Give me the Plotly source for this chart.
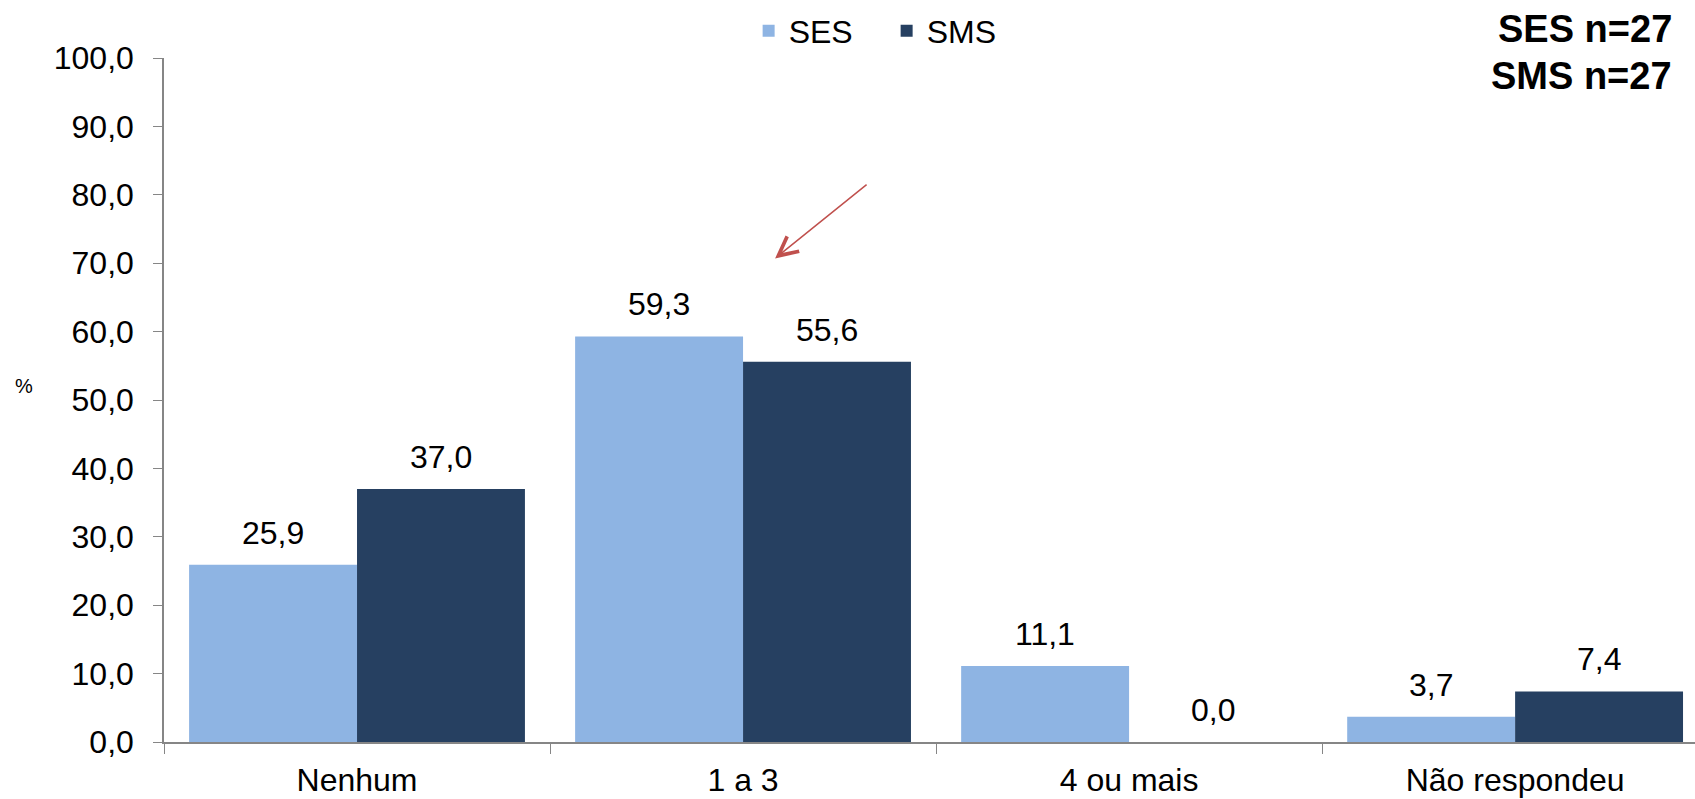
import plotly.graph_objects as go

categories = ["Nenhum", "1 a 3", "4 ou mais", "Não respondeu"]
ses_values = [25.9, 59.3, 11.1, 3.7]
sms_values = [37.0, 55.6, 0.0, 7.4]
series_names = ["SES", "SMS"]
colors = ["#8EB4E3", "#264061"]

FONT = "Liberation Sans, Arial, sans-serif"
fs = 32
BARGAP = 0.13

def lbl(v):
    return f"{v:.1f}".replace(".", ",")

fig = go.Figure()
for name, vals, col in zip(series_names, [ses_values, sms_values], colors):
    fig.add_trace(go.Bar(
        x=categories, y=vals, name=name, marker=dict(color=col, line=dict(width=0)),
        cliponaxis=False,
    ))

# value labels above bars
half = (1 - BARGAP) / 4
for s, vals in enumerate([ses_values, sms_values]):
    off = -half if s == 0 else half
    for i, v in enumerate(vals):
        fig.add_annotation(x=i + off, y=v, xref="x", yref="y", text=lbl(v),
                           showarrow=False, yanchor="bottom", yshift=12,
                           font=dict(family=FONT, size=fs, color="black"))

fig.update_layout(
    width=1695, height=799,
    margin=dict(l=164, r=0, t=58, b=57, autoexpand=False),
    paper_bgcolor="white", plot_bgcolor="white",
    barmode="group", bargap=BARGAP, bargroupgap=0,
    separators=",.",
    font=dict(family=FONT, size=fs, color="black"),
    showlegend=True,
    legend=dict(orientation="h", x=0.472, xanchor="center", y=1.0395, yanchor="middle",
                font=dict(family=FONT, size=fs), itemwidth=30, entrywidth=93,
                bgcolor="rgba(0,0,0,0)"),
    xaxis=dict(range=[-0.5, 3.466], showline=True, linecolor="#868686", linewidth=1.5,
               ticks="outside", tickson="boundaries", ticklen=10, tickcolor="#868686",
               ticklabelstandoff=9,
               tickfont=dict(family=FONT, size=fs), showgrid=False, zeroline=False),
    yaxis=dict(range=[0, 100], dtick=10, tickformat=".1f", showline=True, linecolor="#868686",
               linewidth=1.5, ticks="outside", ticklen=9, tickcolor="#868686",
               ticklabelstandoff=13,
               tickfont=dict(family=FONT, size=fs), showgrid=False, zeroline=False),
)

fig.add_annotation(text="%", xref="paper", yref="paper", x=-0.0914, y=0.521,
                   showarrow=False, font=dict(family=FONT, size=20), xanchor="center",
                   yanchor="middle")
fig.add_annotation(text="<b>SES n=27</b>", xref="paper", yref="paper",
                   x=1, xshift=-21, y=1.0424, yanchor="middle", xanchor="right",
                   showarrow=False, font=dict(family=FONT, size=38))
fig.add_annotation(text="<b>SMS n=27</b>", xref="paper", yref="paper",
                   x=1, xshift=-21, y=0.973, yanchor="middle", xanchor="right",
                   showarrow=False, font=dict(family=FONT, size=38))
fig.add_annotation(x=1.083, y=70.7, xref="x", yref="y", ax=93, ay=-75, text="",
                   showarrow=True, arrowhead=5, arrowsize=2.5, arrowwidth=1.5, arrowcolor="#C0504D")

fig.write_html("out.html")
